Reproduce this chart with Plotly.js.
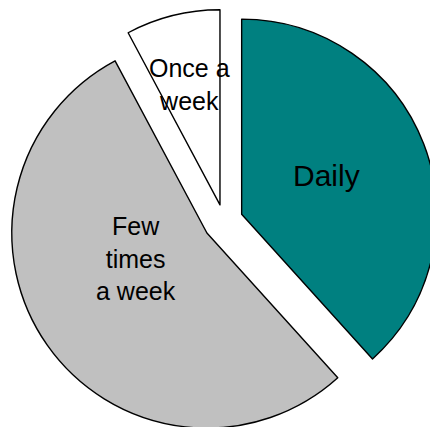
<!DOCTYPE html>
<html>
<head>
<meta charset="utf-8">
<script src="https://cdn.plot.ly/plotly-3.0.1.min.js"></script>
<style>
html, body { margin: 0; padding: 0; overflow: hidden; background: #fff; }
#chart { width: 460px; height: 460px; }
</style>
</head>
<body>
<div id="chart"></div>
<script>
const categories = ["Daily", "Few times a week", "Once a week"];
const labelTexts = ["Daily", "Few<br>times<br>a week", "Once a<br>week"];
const values = [38.3, 53.9, 7.8];
const colors = ["#008080", "#C0C0C0", "#FFFFFF"];
const pulls = [0.097, 0.107, 0.085];
const labelSizes = [30, 25, 25];
// label positions in paper coordinates
const labelX = [0.7384, 0.2963, 0.4190];
const labelY = [0.6060, 0.4140, 0.8170];

const trace = {
  type: "pie",
  labels: categories,
  values: values,
  sort: false,
  direction: "clockwise",
  rotation: 0,
  pull: pulls,
  textinfo: "none",
  hoverinfo: "label+percent",
  marker: { colors: colors, line: { color: "#000000", width: 1.4 } },
  showlegend: false
};

const annotations = categories.map((c, i) => ({
  xref: "paper", yref: "paper",
  x: labelX[i], y: labelY[i],
  xanchor: "center", yanchor: "middle",
  text: labelTexts[i],
  showarrow: false,
  font: { family: "Liberation Sans, Arial, sans-serif", size: labelSizes[i], color: "#000000" }
}));

const layout = {
  width: 460, height: 460,
  margin: { l: 8, r: 20, t: 5, b: 23 },
  paper_bgcolor: "#ffffff",
  plot_bgcolor: "#ffffff",
  showlegend: false,
  annotations: annotations
};

Plotly.newPlot("chart", [trace], layout, { displayModeBar: false, staticPlot: true });
</script>
</body>
</html>
